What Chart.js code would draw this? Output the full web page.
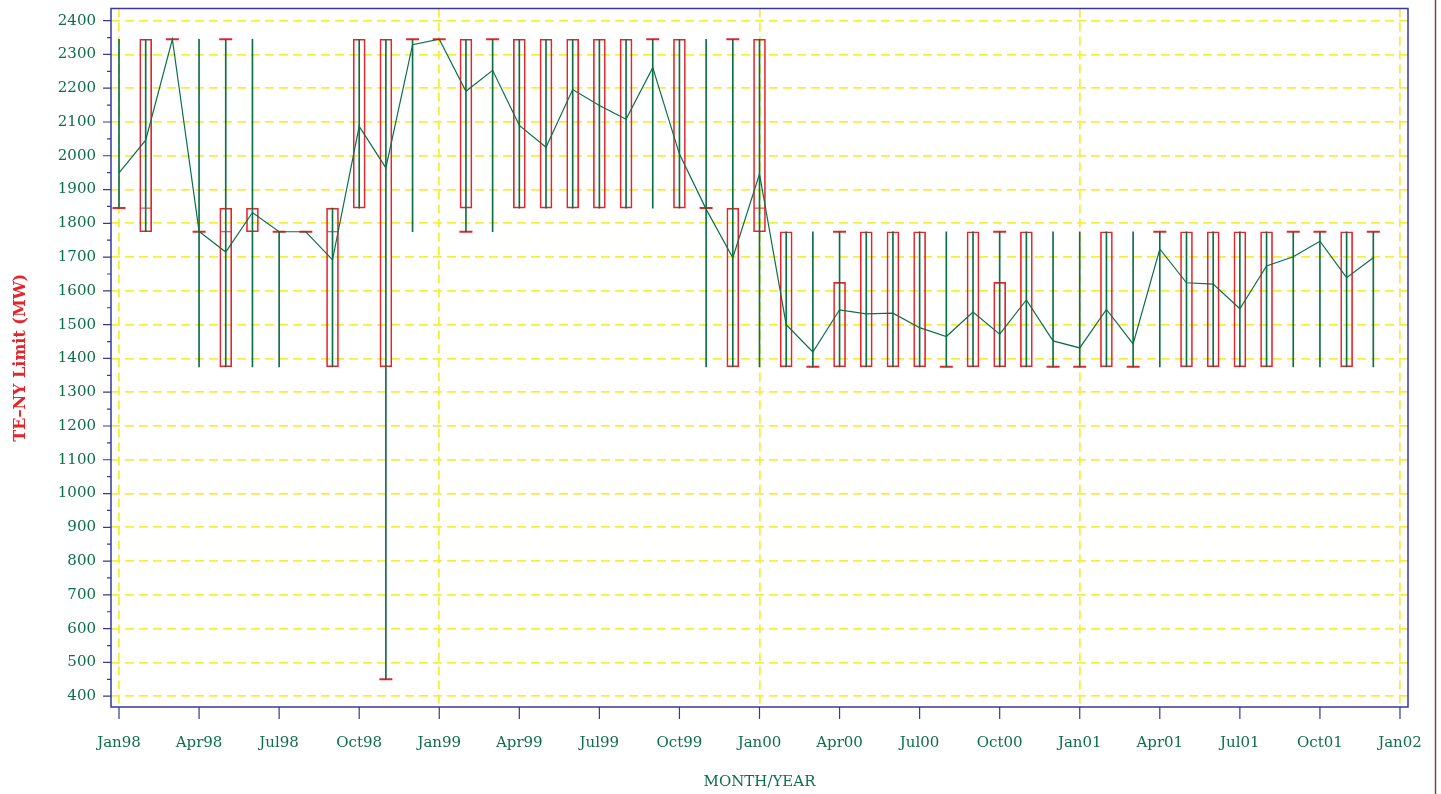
<!DOCTYPE html>
<html>
<head>
<meta charset="utf-8">
<script src="https://cdn.jsdelivr.net/npm/chart.js@4.4.1/dist/chart.umd.min.js"></script>
<style>
  body { margin: 0; background: #fff; }
  #wrap { position: relative; width: 1441px; height: 794px; }
</style>
</head>
<body>
<div id="wrap"><canvas id="chart" width="1441" height="794"></canvas></div>
<script>
// x axis labels, one every 3 months (Jan98 .. Jan02)
const tickLabels = ['Jan98','Apr98','Jul98','Oct98','Jan99','Apr99','Jul99','Oct99',
  'Jan00','Apr00','Jul00','Oct00','Jan01','Apr01','Jul01','Oct01','Jan02'];
const yTicks = [400,500,600,700,800,900,1000,1100,1200,1300,1400,1500,1600,1700,1800,1900,
  2000,2100,2200,2300,2400];

// monthly low / high (green line), Jan98 .. Dec01
const hiloMin = [
  1845,1775,2345,1375,1375,1375,1375,1775,1375,1845, 450,1775,
  2345,1775,1775,1845,1845,1845,1845,1845,1845,1845,1375,1375,
  1375,1375,1375,1375,1375,1375,1375,1375,1375,1375,1375,1375,
  1375,1375,1375,1375,1375,1375,1375,1375,1375,1375,1375,1375];
const hiloMax = [
  2345,2345,2345,2345,2345,2345,1775,1775,1845,2345,2345,2345,
  2345,2345,2345,2345,2345,2345,2345,2345,2345,2345,2345,2345,
  2345,1775,1775,1775,1775,1775,1775,1775,1775,1775,1775,1775,
  1775,1775,1775,1775,1775,1775,1775,1775,1775,1775,1775,1775];
// monthly mean (joined green line)
const meanVals = [
  1949,2046,2345,1776,1715,1832,1775,1775,1692,2087,1964,2329,
  2345,2191,2253,2090,2025,2196,2149,2108,2261,2005,1842,1698,
  1946,1500,1419,1544,1532,1534,1491,1465,1537,1472,1573,1452,
  1431,1545,1443,1724,1624,1620,1547,1674,1701,1747,1639,1698];

// red box plot: whisker ends, quartiles, median
const whiskLo = [
  1845,1775,2345,1775,1375,1775,1775,1775,1375,1845, 450,2345,
  2345,1775,2345,1845,1845,1845,1845,1845,2345,1845,1845,1375,
  1775,1375,1375,1375,1375,1375,1375,1375,1375,1375,1375,1375,
  1375,1375,1375,1775,1375,1375,1375,1375,1775,1775,1375,1775];
const boxQ1 = [
  1845,1775,2345,1775,1375,1775,1775,1775,1375,1845,1375,2345,
  2345,1845,2345,1845,1845,1845,1845,1845,2345,1845,1845,1375,
  1775,1375,1375,1375,1375,1375,1375,1375,1375,1375,1375,1375,
  1375,1375,1375,1775,1375,1375,1375,1375,1775,1775,1375,1775];
const boxMed = [
  1845,1845,2345,1775,1775,1845,1775,1775,1775,2345,2345,2345,
  2345,2345,2345,2345,2345,2345,2345,2345,2345,2345,1845,1845,
  1845,1375,1375,1375,1375,1375,1375,1375,1375,1375,1375,1375,
  1375,1375,1375,1775,1375,1375,1375,1375,1775,1775,1375,1775];
const boxQ3 = [
  1845,2345,2345,1775,1845,1845,1775,1775,1845,2345,2345,2345,
  2345,2345,2345,2345,2345,2345,2345,2345,2345,2345,1845,1845,
  2345,1775,1375,1625,1775,1775,1775,1375,1775,1625,1775,1375,
  1375,1775,1375,1775,1775,1775,1775,1775,1775,1775,1775,1775];
const whiskHi = [
  1845,2345,2345,1775,2345,1845,1775,1775,1845,2345,2345,2345,
  2345,2345,2345,2345,2345,2345,2345,2345,2345,2345,1845,2345,
  2345,1775,1375,1775,1775,1775,1775,1375,1775,1775,1775,1375,
  1375,1775,1375,1775,1775,1775,1775,1775,1775,1775,1775,1775];

const GREEN = '#0d6f48', RED = '#e3262b', NAVY = '#37379c', YELLOW = '#f6ee3c';
const serif = 'DejaVu Serif';

const months = meanVals.map((_, i) => i);

const boxData = months.filter(i => boxQ3[i] > boxQ1[i]).map(i => ({ x: i, y: [boxQ1[i], boxQ3[i]] }));
const hiloData = months.map(i => ({ x: i, y: [hiloMin[i], hiloMax[i]] }));
const meanData = months.map(i => ({ x: i, y: meanVals[i] }));
const medData = months.filter(i => boxMed[i] > boxQ1[i] && boxMed[i] < boxQ3[i])
  .map(i => ({ x: i, y: boxMed[i] }));

// caps: only where the whisker sticks out of the box, or the box is flat
const capData = [];
months.forEach(i => {
  const flat = boxQ1[i] === boxQ3[i];
  if (flat || whiskLo[i] < boxQ1[i]) capData.push({ x: i, y: whiskLo[i] });
  if (!flat && whiskHi[i] > boxQ3[i]) capData.push({ x: i, y: whiskHi[i] });
});

// axis frame, tick marks and the thin edge line on the right
const frame = {
  id: 'frame',
  afterDatasetsDraw(chart) {
    const { ctx, chartArea: a, scales: { x, y } } = chart;
    ctx.save();
    ctx.strokeStyle = NAVY;
    ctx.lineWidth = 1.5;
    ctx.strokeRect(a.left, a.top, a.right - a.left, a.bottom - a.top);

    ctx.lineWidth = 1.2;
    ctx.beginPath();
    yTicks.forEach((v, k) => {
      const py = y.getPixelForValue(v);
      ctx.moveTo(a.left - 8, py); ctx.lineTo(a.left, py);
      if (k < yTicks.length - 1) {
        const pm = y.getPixelForValue((v + yTicks[k + 1]) / 2);
        ctx.moveTo(a.left - 4, pm); ctx.lineTo(a.left, pm);
      }
    });
    tickLabels.forEach((_, k) => {
      const px = x.getPixelForValue(k * 3);
      ctx.moveTo(px, a.bottom); ctx.lineTo(px, a.bottom + 12);
    });
    ctx.stroke();

    ctx.strokeStyle = '#7b4646';
    ctx.lineWidth = 1.5;
    ctx.beginPath();
    ctx.moveTo(1435.5, 0); ctx.lineTo(1435.5, 794);
    ctx.stroke();
    ctx.restore();
  }
};

new Chart(document.getElementById('chart'), {
  type: 'bar',
  data: {
    datasets: [
      { type: 'line', data: meanData, borderColor: GREEN, borderWidth: 1.2,
        pointRadius: 0, tension: 0, order: 0 },
      { type: 'bar', data: hiloData, backgroundColor: GREEN, barThickness: 1,
        grouped: false, order: 1 },
      { type: 'scatter', data: capData, pointStyle: 'line', pointRadius: 6.5,
        borderColor: RED, pointBorderWidth: 2, order: 2 },
      { type: 'scatter', data: medData, pointStyle: 'line', pointRadius: 5.5,
        borderColor: RED, pointBorderWidth: 1, order: 2 },
      { type: 'bar', data: boxData, backgroundColor: 'rgba(0,0,0,0)', borderColor: RED,
        borderWidth: 1, borderSkipped: false, barThickness: 12, grouped: false, order: 3 }
    ]
  },
  options: {
    responsive: false,
    animation: false,
    events: [],
    layout: { padding: { top: 6, right: 33, left: 0, bottom: 0 } },
    plugins: { legend: { display: false }, tooltip: { enabled: false } },
    scales: {
      x: {
        type: 'linear', min: -0.3, max: 48.3, offset: false,
        afterBuildTicks: s => { s.ticks = tickLabels.map((_, k) => ({ value: k * 3 })); },
        afterFit: s => { s.height = 87; s.paddingLeft = 0; s.paddingRight = 0; },
        grid: {
          drawTicks: false, offset: false, lineWidth: 1.8,
          color: c => (c.tick && c.tick.value % 12 === 0) ? YELLOW : 'rgba(0,0,0,0)'
        },
        border: { display: false, dash: [9, 5] },
        ticks: {
          autoSkip: false, maxRotation: 0, padding: 27, color: GREEN,
          font: { family: serif, size: 15 },
          callback: (v, k) => tickLabels[k]
        },
        title: {
          display: true, text: 'MONTH/YEAR', color: GREEN,
          font: { family: serif, size: 15 }, padding: { top: 0, bottom: 3 }
        }
      },
      y: {
        min: 368, max: 2436,
        afterBuildTicks: s => { s.ticks = yTicks.map(v => ({ value: v })); },
        afterFit: s => { s.width = 111; s.paddingTop = 0; s.paddingBottom = 0; },
        grid: { drawTicks: false, color: YELLOW, lineWidth: 1.8 },
        border: { display: false, dash: [9, 5] },
        ticks: { padding: 15, color: GREEN, font: { family: serif, size: 15 }, callback: v => v },
        title: {
          display: true, text: 'TE–NY Limit (MW)', color: RED,
          font: { family: serif, size: 16, weight: 'bold' }, padding: { top: 11, bottom: 0 }
        }
      }
    }
  },
  plugins: [frame]
});
</script>
</body>
</html>
